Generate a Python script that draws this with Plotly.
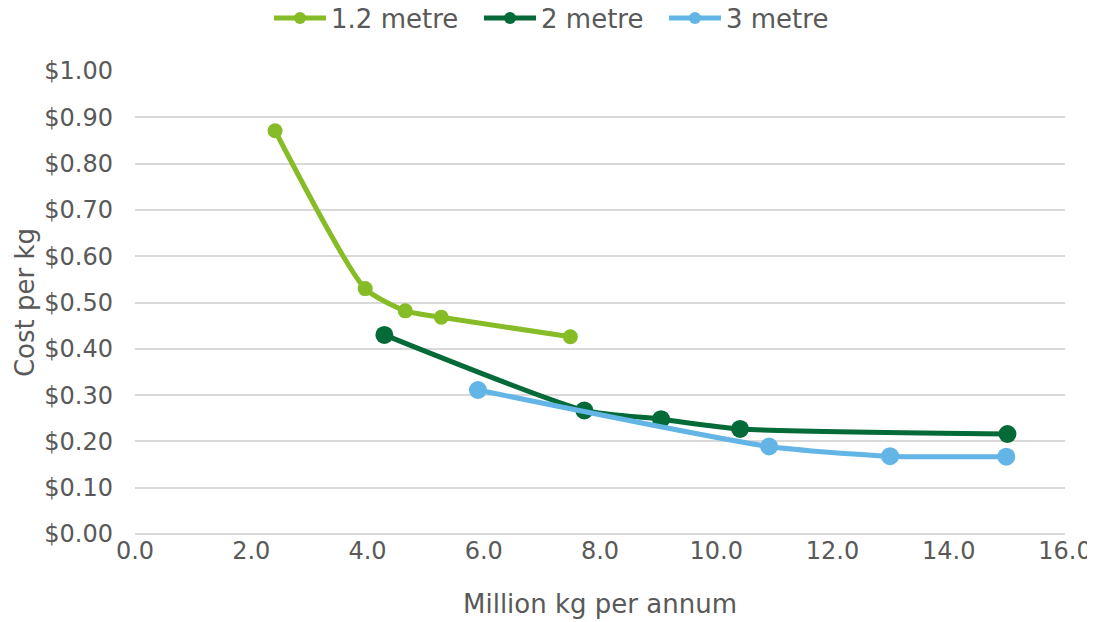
import plotly.graph_objects as go

series_names = ["1.2 metre", "2 metre", "3 metre"]
x_12 = [2.41, 3.96, 4.65, 5.27, 7.49]
y_12 = [0.871, 0.530, 0.482, 0.468, 0.426]
x_2 = [4.29, 7.73, 9.05, 10.41, 15.01]
y_2 = [0.430, 0.267, 0.248, 0.227, 0.216]
x_3 = [5.90, 10.91, 12.99, 14.99]
y_3 = [0.311, 0.189, 0.168, 0.167]

colors = ["#86BC25", "#046A38", "#62B5E5"]
msizes = [15, 18, 18]
legend_ids = ["legend", "legend2", "legend3"]
legend_x = [0.1441, 0.3699, 0.5688]

fig = go.Figure()
for name, xs, ys, c, ms, lg in zip(series_names, [x_12, x_2, x_3], [y_12, y_2, y_3],
                                   colors, msizes, legend_ids):
    fig.add_trace(go.Scatter(
        x=xs, y=ys, name=name, mode="lines+markers", legend=lg,
        line=dict(color=c, width=5, shape="spline", smoothing=0.6),
        marker=dict(color=c, size=ms),
    ))

font_family = "DejaVu Sans, Verdana, sans-serif"
fig.update_layout(
    width=1095, height=622,
    margin=dict(l=127, r=38, t=63, b=96, autoexpand=False),
    plot_bgcolor="white", paper_bgcolor="white",
    font=dict(family=font_family, size=24, color="#595959"),
    showlegend=True,
)
for lg, lx in zip(legend_ids, legend_x):
    fig.update_layout({lg: dict(orientation="h", x=lx, xanchor="left", y=1.1145,
                                yanchor="middle", itemwidth=52, itemsizing="constant",
                                bgcolor="rgba(0,0,0,0)",
                                font=dict(size=26, color="#595959"))})
fig.update_xaxes(range=[0, 16], tickmode="linear", tick0=0, dtick=2, tickformat=".1f",
                 showgrid=False, zeroline=False, showline=False, ticks="", automargin=False,
                 tickfont=dict(size=24),
                 title=dict(text="Million kg per annum", standoff=30, font=dict(size=26)))
fig.update_yaxes(range=[0, 1], tickmode="linear", tick0=0, dtick=0.1, tickformat="$.2f",
                 showgrid=True, gridcolor="#D9D9D9", gridwidth=2, zeroline=True,
                 zerolinecolor="#D9D9D9", zerolinewidth=2, showline=False, ticks="",
                 automargin=False, ticklabelstandoff=21, tickfont=dict(size=24),
                 title=dict(text="Cost per kg", standoff=2, font=dict(size=26)))
fig.write_html("out.html")
